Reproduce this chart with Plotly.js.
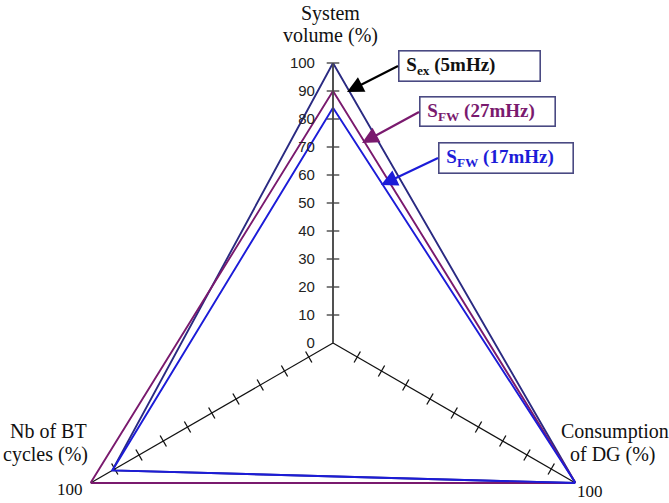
<!DOCTYPE html>
<html>
<head>
<meta charset="utf-8">
<script src="https://cdn.plot.ly/plotly-3.0.1.min.js"></script>
<style>html,body{margin:0;padding:0;background:#fff;overflow:hidden;}#wrap{width:669px;height:503px;overflow:hidden;}#chart{width:669px;height:640px;}</style>
</head>
<body>
<div id="wrap"><div id="chart"></div></div>
<script>
// ---- data ----
const categories = ['System volume (%)', 'Consumption of DG (%)', 'Nb of BT cycles (%)'];
const seriesNames = ['S<sub>ex</sub> (5mHz)', 'S<sub>FW</sub> (27mHz)', 'S<sub>FW</sub> (17mHz)'];
const sEx5 = [100, 100, 91];
const sFw27 = [90, 100, 100];
const sFw17 = [84, 100, 91];
const radialTicks = [0, 10, 20, 30, 40, 50, 60, 70, 80, 90, 100];
const spokeTicks = [10, 20, 30, 40, 50, 60, 70, 80, 90];

const W = 669, H = 640;  // plot is taller than the 503px window; the circle of the polar subplot needs it
const serif = 'Liberation Serif, Times New Roman, serif';
const sans = 'Liberation Sans, Arial, sans-serif';

function closed(a){ return a.concat([a[0]]); }
const thetaClosed = closed(categories);

const traces = [];
// tick marks on the three spokes
const tickAngles = [90, 30, -30];
categories.forEach((c, i) => {
  const rs = i === 0 ? radialTicks.slice(1) : spokeTicks;
  traces.push({
    type: 'scatterpolar', mode: 'markers', r: rs, theta: rs.map(() => c),
    marker: {symbol: 'line-ns', size: 9, angle: tickAngles[i], line: {width: 1.3, color: i === 0 ? '#3a3a3a' : '#111'}},
    hoverinfo: 'skip', showlegend: false, cliponaxis: false
  });
});
const colors = ['#2a2a82', '#7a1a6e', '#1c1cd8'];
[sEx5, sFw27, sFw17].forEach((s, i) => {
  traces.push({
    type: 'scatterpolar', mode: 'lines', r: closed(s), theta: thetaClosed,
    line: {color: colors[i], width: 1.9}, name: seriesNames[i],
    showlegend: false, cliponaxis: false
  });
});

function px(x){ return x / W; }
function py(y){ return 1 - y / H; }
function label(text, x, y, size, anchor){
  return {x: px(x), y: py(y), text: text, showarrow: false,
    font: {family: serif, size: size, color: '#111'}, xanchor: anchor || 'center', yanchor: 'middle'};
}

const boxBorder = '#4a4a82';
const annotations = [
  label('System', 330, 14, 20),
  label('volume (%)', 330, 35, 20),
  label('Nb of BT', 49, 431, 20),
  label('cycles (%)', 45, 454, 20),
  label('Consumption', 559, 431, 20, 'left'),
  label('of DG (%)', 613, 454, 20),
  label('100', 70, 489, 17),
  label('100', 590, 491, 17),
  // legend boxes with arrows
  {x: px(347), y: py(92), ax: 51, ay: -26, xanchor: 'left', yanchor: 'middle',
   text: '&nbsp;' + seriesNames[0], showarrow: true, arrowhead: 2, arrowsize: 1.5, arrowwidth: 2.2, arrowcolor: '#000',
   font: {family: serif, size: 19, color: '#111', weight: 'bold'}, align: 'left', width: 136, height: 25,
   bordercolor: boxBorder, borderwidth: 1.6, borderpad: 2, bgcolor: '#fff'},
  {x: px(362), y: py(143), ax: 57, ay: -31, xanchor: 'left', yanchor: 'middle',
   text: '&nbsp;' + seriesNames[1], showarrow: true, arrowhead: 2, arrowsize: 1.5, arrowwidth: 2.2, arrowcolor: colors[1],
   font: {family: serif, size: 19, color: colors[1], weight: 'bold'}, align: 'left', width: 130, height: 24,
   bordercolor: boxBorder, borderwidth: 1.6, borderpad: 2, bgcolor: '#fff'},
  {x: px(381), y: py(185), ax: 57, ay: -27, xanchor: 'left', yanchor: 'middle',
   text: '&nbsp;' + seriesNames[2], showarrow: true, arrowhead: 2, arrowsize: 1.5, arrowwidth: 2.2, arrowcolor: colors[2],
   font: {family: serif, size: 19, color: colors[2], weight: 'bold'}, align: 'left', width: 129, height: 25,
   bordercolor: boxBorder, borderwidth: 1.6, borderpad: 2, bgcolor: '#fff'}
];

const layout = {
  width: W, height: H,
  margin: {l: 0, r: 0, t: 0, b: 0},
  paper_bgcolor: '#fff',
  showlegend: false,
  polar: {
    domain: {x: [53 / W, 613 / W], y: [17 / H, 577 / H]},
    bgcolor: 'rgba(0,0,0,0)',
    angularaxis: {
      type: 'category', categoryorder: 'array', categoryarray: categories,
      rotation: 90, direction: 'clockwise',
      showline: false, showticklabels: false, ticks: '',
      showgrid: true, gridcolor: '#111', gridwidth: 1.2
    },
    radialaxis: {
      range: [0, 100], angle: 90, side: 'counterclockwise',
      showline: true, linecolor: '#4a4a4a', linewidth: 1.6,
      showgrid: false, ticks: 'outside', ticklen: 12, tickcolor: 'rgba(0,0,0,0)',
      tickvals: radialTicks,
      tickangle: 90,
      tickfont: {family: sans, size: 15, color: '#222'}
    }
  },
  annotations: annotations
};

Plotly.newPlot('chart', traces, layout, {staticPlot: true, displayModeBar: false});
</script>
</body>
</html>
